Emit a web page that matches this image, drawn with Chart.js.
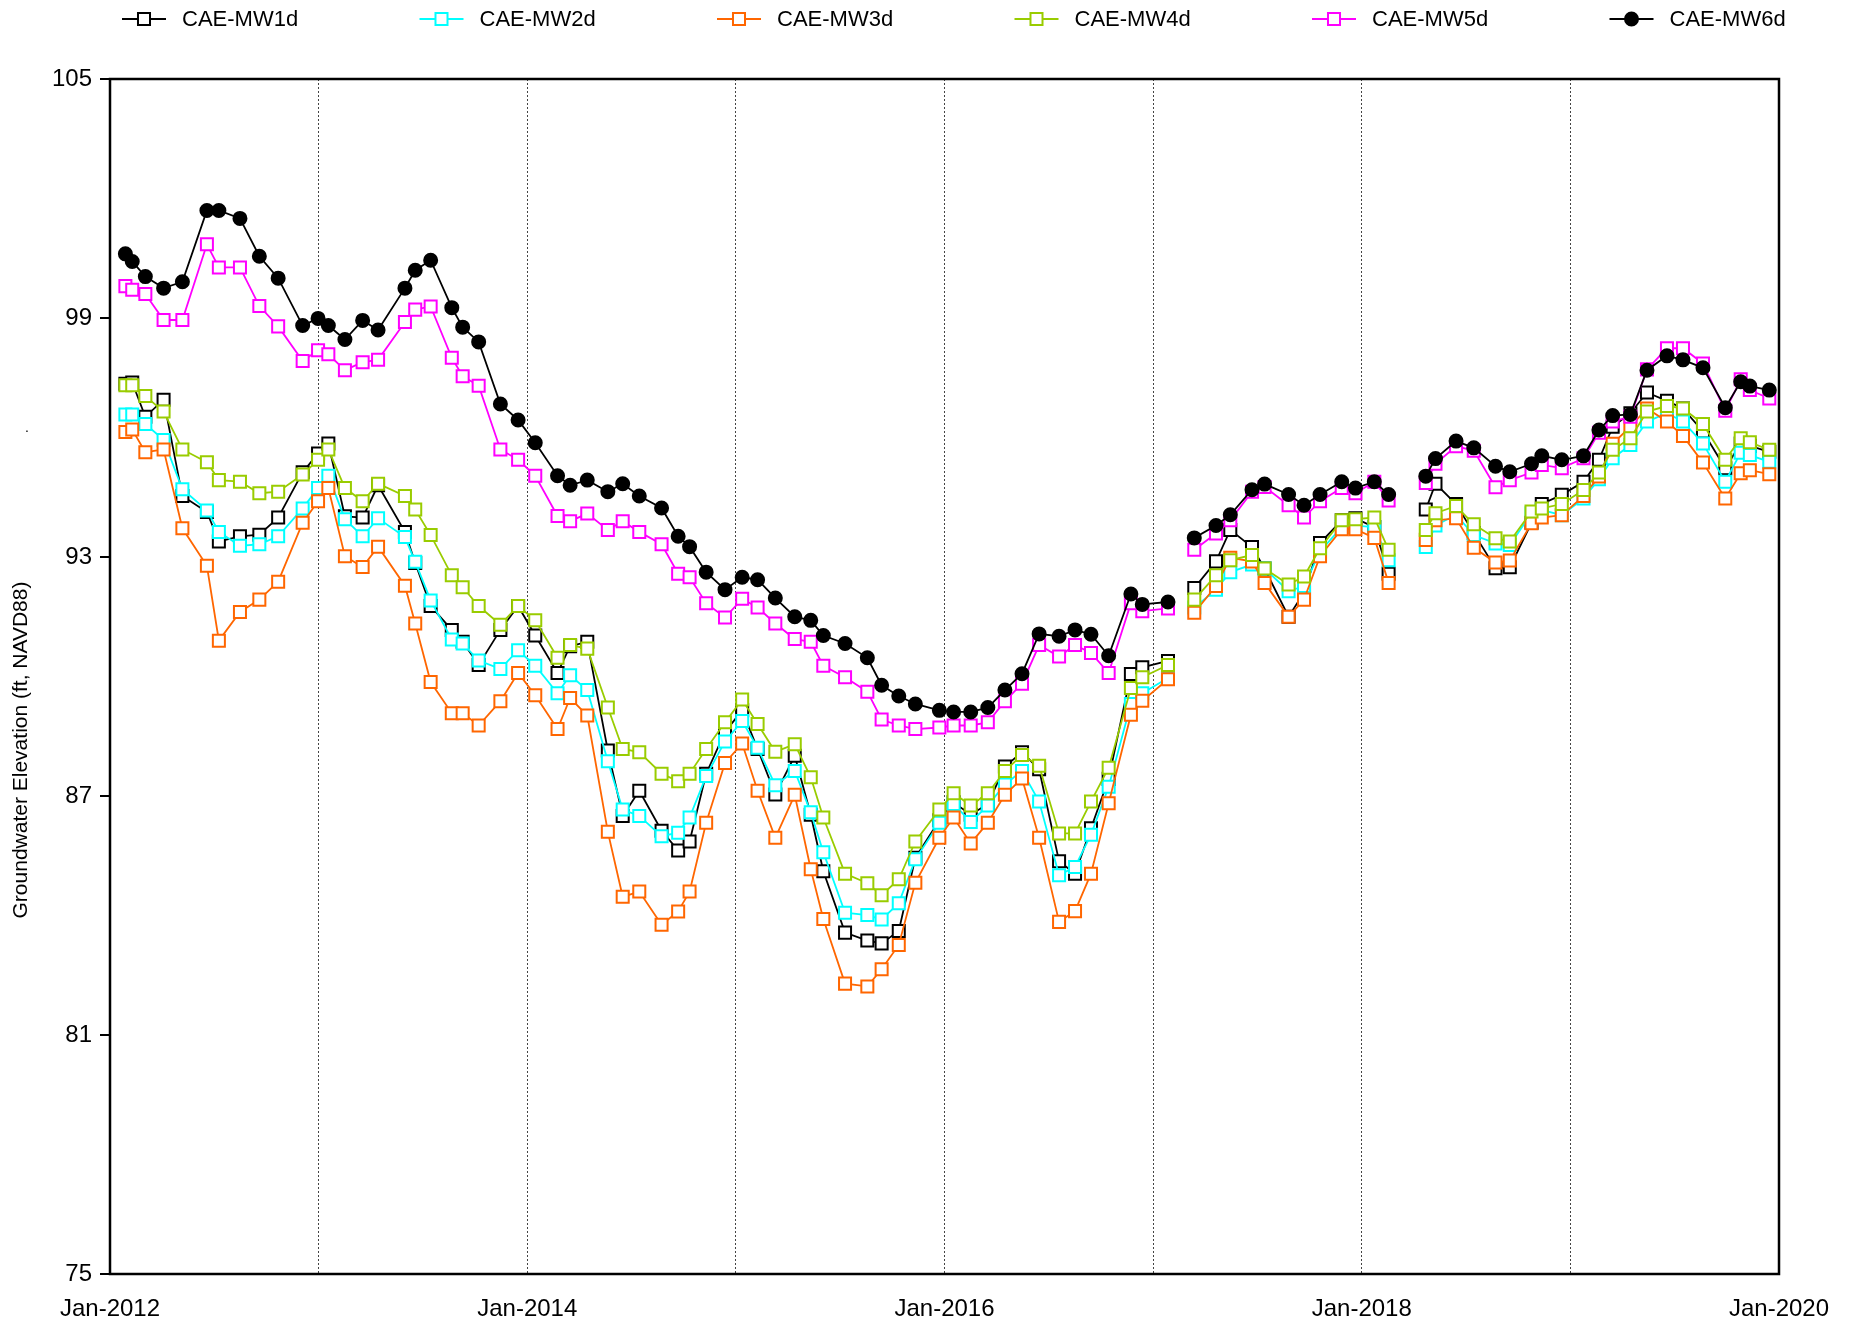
<!DOCTYPE html>
<html>
<head>
<meta charset="utf-8">
<script src="https://cdn.jsdelivr.net/npm/chart.js@4/dist/chart.umd.min.js"></script>
<style>
  html, body { margin: 0; padding: 0; background: #fff; }
</style>
</head>
<body>
<canvas id="chart" width="1851" height="1328"></canvas>
<script>
// sampling dates (gap rows have no readings)
const sampleDates = [
  '2012-01-28','2012-02-09','2012-03-03','2012-04-04','2012-05-07','2012-06-19','2012-07-10','2012-08-16','2012-09-19','2012-10-22',
  '2012-12-04','2012-12-31','2013-01-18','2013-02-16','2013-03-19','2013-04-15','2013-06-01','2013-06-19','2013-07-16','2013-08-22',
  '2013-09-10','2013-10-08','2013-11-15','2013-12-16','2014-01-15','2014-02-23','2014-03-17','2014-04-16','2014-05-22','2014-06-17',
  '2014-07-16','2014-08-24','2014-09-22','2014-10-12','2014-11-10','2014-12-13','2015-01-12','2015-02-08','2015-03-11','2015-04-14',
  '2015-05-12','2015-06-03','2015-07-11','2015-08-19','2015-09-13','2015-10-13','2015-11-11','2015-12-23','2016-01-17','2016-02-16',
  '2016-03-17','2016-04-16','2016-05-16','2016-06-15','2016-07-20','2016-08-17','2016-09-14','2016-10-15','2016-11-23','2016-12-13',
  '2017-01-27','2017-02-20','2017-03-14','2017-04-21','2017-05-16','2017-06-23','2017-07-15','2017-08-26','2017-09-22','2017-10-20',
  '2017-11-27','2017-12-21','2018-01-23','2018-02-17','2018-03-20','2018-04-23','2018-05-10','2018-06-15','2018-07-16','2018-08-23',
  '2018-09-17','2018-10-25','2018-11-12','2018-12-17','2019-01-24','2019-02-20','2019-03-16','2019-04-16','2019-05-15','2019-06-19',
  '2019-07-17','2019-08-21','2019-09-29','2019-10-26','2019-11-11','2019-12-15'
];

const mw1d = [
  97.35, 97.38, 96.52, 96.95, 94.53, 94.13, 93.39, 93.52, 93.56, 93.99,
  95.13, 95.60, 95.85, 94.02, 93.99, 94.80, 93.63, 92.85, 91.77, 91.17,
  90.87, 90.29, 91.17, 91.77, 91.03, 90.09, 90.76, 90.87, 88.14, 86.50,
  87.13, 86.13, 85.63, 85.86, 87.56, 88.61, 89.15, 88.18, 87.04, 88.01,
  86.53, 85.11, 83.57, 83.37, 83.30, 83.61, 85.45, 86.39, 86.84, 86.53,
  86.80, 87.74, 88.10, 87.67, 85.36, 85.05, 86.19, 87.43, 90.06, 90.23,
  90.39, null, 92.22, 92.89, 93.68, 93.25, 92.71, 91.50, 92.11, 93.35,
  93.92, 93.97, 93.75, 92.58, null, 94.19, 94.84, 94.33, 93.60, 92.72,
  92.74, 93.86, 94.33, 94.56, 94.89, 95.44, 96.27, 96.61, 97.13, 96.92,
  96.73, 96.15, 95.23, 95.85, 95.79, 95.64
];
const mw2d = [
  96.58, 96.58, 96.34, 95.94, 94.70, 94.17, 93.63, 93.28, 93.32, 93.52,
  94.22, 94.73, 95.04, 93.95, 93.52, 93.97, 93.50, 92.88, 91.91, 90.93,
  90.83, 90.40, 90.19, 90.66, 90.27, 89.58, 90.03, 89.66, 87.87, 86.66,
  86.50, 85.99, 86.08, 86.46, 87.50, 88.37, 88.88, 88.21, 87.27, 87.63,
  86.59, 85.59, 84.07, 84.01, 83.90, 84.31, 85.41, 86.33, 86.80, 86.35,
  86.76, 87.29, 87.63, 86.86, 85.01, 85.22, 86.03, 87.23, 89.31, 89.58,
  89.96, null, 91.73, 92.18, 92.62, 92.81, 92.71, 92.14, 92.27, 93.14,
  93.75, 93.79, 93.75, 92.92, null, 93.25, 93.79, 94.06, 93.55, 93.34,
  93.30, 94.10, 94.18, 94.05, 94.47, 94.95, 95.48, 95.81, 96.40, 96.61,
  96.40, 95.85, 94.89, 95.62, 95.56, 95.39
];
const mw3d = [
  96.14, 96.20, 95.63, 95.70, 93.72, 92.78, 90.90, 91.62, 91.93, 92.38,
  93.86, 94.40, 94.73, 93.02, 92.75, 93.26, 92.28, 91.33, 89.86, 89.08,
  89.08, 88.77, 89.38, 90.09, 89.53, 88.68, 89.46, 89.02, 86.10, 84.47,
  84.60, 83.77, 84.10, 84.60, 86.33, 87.83, 88.32, 87.13, 85.95, 87.03,
  85.16, 83.91, 82.29, 82.22, 82.65, 83.26, 84.82, 85.95, 86.46, 85.81,
  86.33, 87.03, 87.44, 85.95, 83.84, 84.11, 85.05, 86.82, 89.04, 89.39,
  89.93, null, 91.60, 92.27, 92.98, 92.89, 92.35, 91.50, 91.93, 93.02,
  93.70, 93.70, 93.48, 92.35, null, 93.43, 93.92, 93.97, 93.23, 92.86,
  92.91, 93.85, 93.99, 94.05, 94.53, 95.02, 95.84, 96.27, 96.73, 96.40,
  96.04, 95.37, 94.47, 95.10, 95.18, 95.08
];
const mw4d = [
  97.31, 97.31, 97.04, 96.65, 95.70, 95.38, 94.93, 94.89, 94.60, 94.64,
  95.07, 95.44, 95.70, 94.73, 94.40, 94.84, 94.53, 94.19, 93.55, 92.54,
  92.24, 91.77, 91.30, 91.77, 91.41, 90.47, 90.79, 90.70, 89.22, 88.18,
  88.10, 87.56, 87.37, 87.56, 88.18, 88.85, 89.42, 88.81, 88.11, 88.30,
  87.47, 86.46, 85.05, 84.81, 84.51, 84.91, 85.86, 86.66, 87.07, 86.76,
  87.07, 87.63, 88.03, 87.76, 86.06, 86.06, 86.86, 87.71, 89.71, 89.98,
  90.29, null, 91.93, 92.54, 92.92, 93.05, 92.71, 92.31, 92.51, 93.22,
  93.92, 93.95, 93.99, 93.18, null, 93.68, 94.10, 94.28, 93.82, 93.47,
  93.39, 94.14, 94.22, 94.33, 94.68, 95.12, 95.69, 95.98, 96.65, 96.79,
  96.73, 96.34, 95.44, 95.98, 95.88, 95.69
];
const mw5d = [
  99.80, 99.71, 99.60, 98.95, 98.95, 100.85, 100.27, 100.27, 99.30, 98.79,
  97.92, 98.19, 98.09, 97.69, 97.89, 97.95, 98.90, 99.21, 99.29, 98.00,
  97.54, 97.30, 95.70, 95.44, 95.04, 94.03, 93.90, 94.09, 93.68, 93.90,
  93.63, 93.32, 92.58, 92.49, 91.84, 91.48, 91.95, 91.73, 91.33, 90.94,
  90.87, 90.27, 89.98, 89.62, 88.92, 88.77, 88.68, 88.72, 88.77, 88.77,
  88.85, 89.38, 89.82, 90.79, 90.50, 90.79, 90.59, 90.09, 91.84, 91.64,
  91.71, null, 93.18, 93.59, 93.92, 94.64, 94.76, 94.30, 93.99, 94.40,
  94.73, 94.60, 94.89, 94.42, null, 94.86, 95.34, 95.78, 95.67, 94.75,
  94.93, 95.12, 95.31, 95.23, 95.48, 96.12, 96.40, 96.52, 97.71, 98.24,
  98.24, 97.86, 96.67, 97.46, 97.19, 96.98
];
const mw6d = [
  100.61, 100.42, 100.04, 99.75, 99.91, 101.70, 101.70, 101.50, 100.55, 100.00,
  98.81, 98.99, 98.81, 98.46, 98.94, 98.70, 99.75, 100.20, 100.45, 99.26,
  98.77, 98.40, 96.84, 96.44, 95.87, 95.04, 94.80, 94.93, 94.64, 94.84,
  94.53, 94.23, 93.52, 93.26, 92.62, 92.18, 92.49, 92.43, 91.97, 91.50,
  91.41, 91.03, 90.83, 90.47, 89.78, 89.51, 89.31, 89.15, 89.11, 89.11,
  89.22, 89.66, 90.07, 91.07, 91.01, 91.17, 91.06, 90.52, 92.07, 91.81,
  91.87, null, 93.48, 93.79, 94.06, 94.69, 94.83, 94.57, 94.30, 94.57,
  94.89, 94.73, 94.89, 94.57, null, 95.03, 95.47, 95.91, 95.74, 95.28,
  95.14, 95.34, 95.54, 95.44, 95.54, 96.19, 96.55, 96.58, 97.69, 98.05,
  97.95, 97.75, 96.75, 97.40, 97.29, 97.19
];

const seriesNames = ['CAE-MW1d', 'CAE-MW2d', 'CAE-MW3d', 'CAE-MW4d', 'CAE-MW5d', 'CAE-MW6d'];
const seriesValues = [mw1d, mw2d, mw3d, mw4d, mw5d, mw6d];
const yTicks = [75, 81, 87, 93, 99, 105];
const xYears = [2012, 2013, 2014, 2015, 2016, 2017, 2018, 2019, 2020];

const colors = ['#000000', '#00FFFF', '#FF6600', '#99CC00', '#FF00FF', '#000000'];
const FONT = '"Liberation Sans", Arial, sans-serif';

function toYear(s) {
    const y = +s.slice(0, 4);
    const t = Date.parse(s + 'T00:00:00Z');
    const a = Date.UTC(y, 0, 1), b = Date.UTC(y + 1, 0, 1);
    return y + (t - a) / (b - a);
}
const xs = sampleDates.map(toYear);

const datasets = seriesNames.map((name, i) => {
    const filled = i === 5;
    return {
        label: name,
        data: seriesValues[i].map((v, j) => ({ x: xs[j], y: v })),
        borderColor: colors[i],
        borderWidth: 1.8,
        pointStyle: filled ? 'circle' : 'rect',
        pointRadius: filled ? 6.5 : 8.5,
        pointBorderWidth: 2,
        pointBorderColor: colors[i],
        pointBackgroundColor: filled ? '#000000' : '#FFFFFF',
        tension: 0,
        spanGaps: false,
        order: 5 - i
    };
});

// рамка, легенда и подпись оси
const extras = {
    id: 'extras',
    afterDraw(chart) {
        const { ctx, chartArea: a } = chart;
        ctx.save();
        ctx.strokeStyle = '#000';
        ctx.lineWidth = 2.5;
        ctx.strokeRect(a.left, a.top, a.right - a.left, a.bottom - a.top);

        ctx.fillStyle = '#000';
        ctx.font = '21px ' + FONT;
        ctx.textAlign = 'center';
        ctx.textBaseline = 'middle';
        ctx.save();
        ctx.translate(21, 750);
        ctx.rotate(-Math.PI / 2);
        ctx.fillText('Groundwater Elevation (ft, NAVD88)', 0, 0);
        ctx.restore();
        ctx.font = '14px ' + FONT;
        ctx.fillText('.', 27, 428);

        chart.data.datasets.forEach((ds, i) => {
            const x0 = 122 + i * 297.5, y = 19;
            ctx.strokeStyle = ds.borderColor;
            ctx.lineWidth = 1.8;
            ctx.beginPath();
            ctx.moveTo(x0, y);
            ctx.lineTo(x0 + 44, y);
            ctx.stroke();
            ctx.fillStyle = ds.pointBackgroundColor;
            ctx.lineWidth = 2;
            Chart.helpers.drawPoint(ctx, {
                pointStyle: ds.pointStyle, radius: ds.pointRadius, borderWidth: 2, rotation: 0
            }, x0 + 22, y);
            ctx.fillStyle = '#000';
            ctx.font = '22px ' + FONT;
            ctx.textAlign = 'left';
            ctx.fillText(ds.label, x0 + 60, y + 1);
        });
        ctx.restore();
    }
};

new Chart(document.getElementById('chart'), {
    type: 'line',
    data: { datasets },
    plugins: [extras],
    options: {
        responsive: false,
        animation: false,
        layout: { padding: { top: 79, right: 72, left: 0, bottom: 0 } },
        plugins: { legend: { display: false }, tooltip: { enabled: false } },
        scales: {
            x: {
                type: 'linear',
                min: 2012,
                max: 2020,
                afterFit: s => { s.height = 54; },
                afterBuildTicks: s => { s.ticks = xYears.map(v => ({ value: v })); },
                ticks: {
                    autoSkip: false,
                    maxRotation: 0,
                    padding: 21,
                    color: '#000',
                    font: { family: FONT, size: 24 },
                    callback: v => (v % 2 === 0 ? 'Jan-' + v : '')
                },
                grid: { color: '#444', lineWidth: 1, drawTicks: false },
                border: { display: false, dash: [2, 2] }
            },
            y: {
                min: 75,
                max: 105,
                afterFit: s => { s.width = 110; },
                afterBuildTicks: s => { s.ticks = yTicks.map(v => ({ value: v })); },
                ticks: {
                    padding: 8,
                    color: '#000',
                    font: { family: FONT, size: 24 }
                },
                grid: { drawOnChartArea: false, drawTicks: true, tickLength: 10, color: '#000', lineWidth: 2 },
                border: { display: false }
            }
        }
    }
});
</script>
</body>
</html>
